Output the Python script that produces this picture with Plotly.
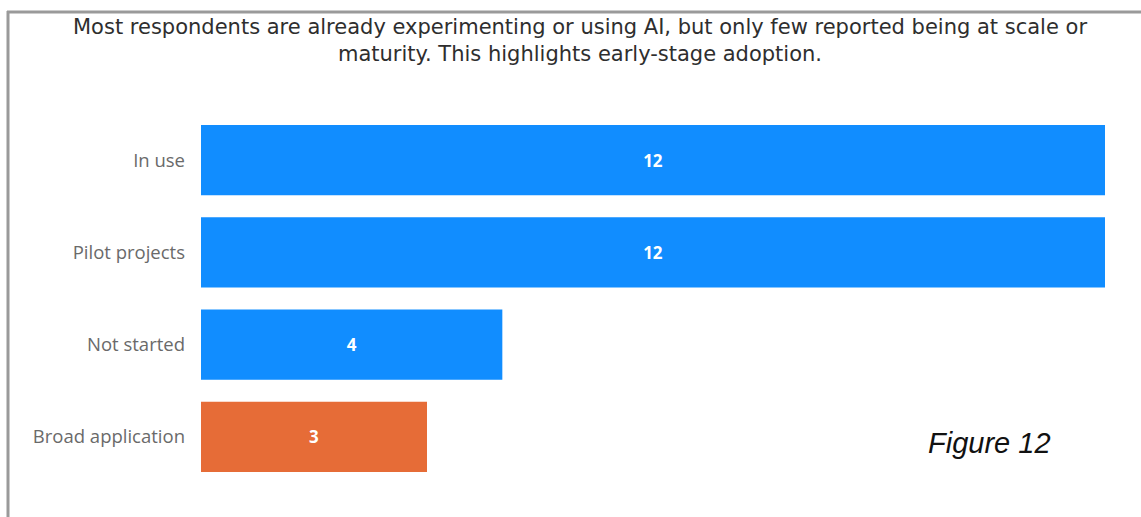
import plotly.graph_objects as go

# Adoption stage of AI among respondents
stages = ["In use", "Pilot projects", "Not started", "Broad application"]
counts = [12, 12, 4, 3]
bar_colors = ["#118DFF", "#118DFF", "#118DFF", "#E66C37"]

title_text = ("Most respondents are already experimenting or using AI, but only few reported being at scale or"
              "<br>maturity. This highlights early-stage adoption.")

W, H = 1141, 517
L, R, T, B = 201, 36, 114, 34
pw, ph = W - L - R, H - T - B


def px_x(x):
    return (x - L) / pw


def px_y(y):
    return (H - B - y) / ph


fig = go.Figure(
    go.Bar(
        y=stages,
        x=counts,
        orientation="h",
        marker=dict(color=bar_colors, line=dict(width=0)),
        text=[f"<b>{c}</b>" for c in counts],
        textposition="inside",
        insidetextanchor="middle",
        textfont=dict(family="Open Sans, DejaVu Sans, sans-serif", size=17, color="white"),
        hoverinfo="skip",
    )
)

fig.update_layout(
    width=W,
    height=H,
    margin=dict(l=L, r=R, t=T, b=B),
    paper_bgcolor="white",
    plot_bgcolor="white",
    bargap=0.24,
    showlegend=False,
    xaxis=dict(range=[0, 12], visible=False, fixedrange=True),
    yaxis=dict(
        categoryorder="array",
        categoryarray=stages[::-1],
        showgrid=False,
        zeroline=False,
        showline=False,
        ticks="",
        ticklabelstandoff=15,
        tickfont=dict(family="Open Sans, Noto Sans, sans-serif", size=18.5, color="#6a6a6a"),
    ),
    annotations=[
        dict(
            text=title_text,
            x=px_x(580),
            y=px_y(41),
            xref="paper",
            yref="paper",
            xanchor="center",
            yanchor="middle",
            showarrow=False,
            align="center",
            font=dict(family="DejaVu Sans", size=21, color="#2e2e2e"),
        ),
        dict(
            text="<i>Figure 12</i>",
            x=px_x(989),
            y=px_y(443),
            xref="paper",
            yref="paper",
            xanchor="center",
            yanchor="middle",
            showarrow=False,
            font=dict(family="Liberation Sans, Arial, sans-serif", size=29, color="#111111"),
        ),
    ],
    shapes=[
        dict(type="line", xref="paper", yref="paper",
             x0=px_x(7), x1=px_x(W + 5), y0=px_y(12), y1=px_y(12),
             line=dict(color="#9a9a9a", width=3)),
        dict(type="line", xref="paper", yref="paper",
             x0=px_x(8), x1=px_x(8), y0=px_y(11), y1=px_y(H + 5),
             line=dict(color="#9a9a9a", width=3)),
    ],
)

fig.write_html("out.html")
